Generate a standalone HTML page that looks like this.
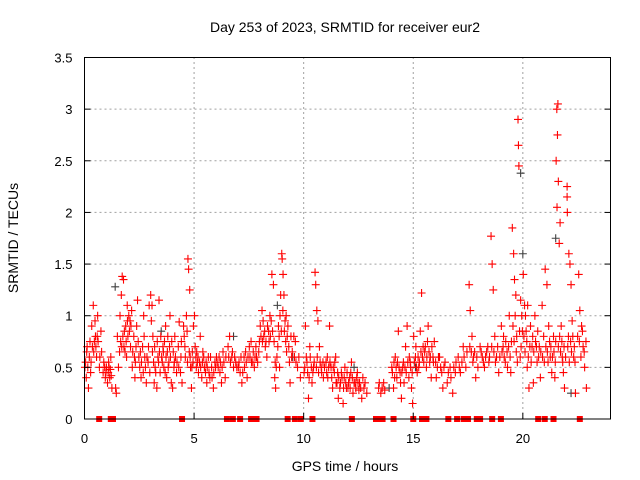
<!DOCTYPE html>
<html><head><meta charset="utf-8"><style>
body{margin:0;background:#fff;}
svg{display:block;font-family:"Liberation Sans",sans-serif;}
</style></head><body>
<svg id="chart" width="640" height="480" viewBox="0 0 640 480">
<text x="345" y="32" font-size="14" text-anchor="middle">Day 253 of 2023, SRMTID for receiver eur2</text>
<text x="345" y="471" font-size="14" text-anchor="middle">GPS time / hours</text>
<text x="0" y="0" font-size="14" text-anchor="middle" transform="translate(18,238) rotate(-90)">SRMTID / TECUs</text>
<g id="grid"></g>
<g id="gray"></g>
<g id="red"></g>
<g id="zeros"></g>
<g id="axes"></g>
</svg>
<script>
const xTicks=[0,5,10,15,20];
const yTicks=[0,0.5,1,1.5,2,2.5,3,3.5];
const yTickLabels=["0","0.5","1","1.5","2","2.5","3","3.5"];
const redPts=[
[0.02,0.5],[0.08,0.4],[0.12,0.7],[0.18,0.3],[0.22,0.6],[0.28,0.45],
[0.33,0.9],[0.4,1.1],[0.45,0.75],[0.5,0.8],[0.55,0.6],[0.6,1.0],[0.68,0.5],[0.75,0.85],
[0.92,0.5],[0.98,0.45],[1.05,0.35],[1.1,0.55],[1.15,0.4],[1.2,0.6],[1.25,0.3],
[1.42,0.3],[1.45,0.25],[1.5,0.8],[1.55,0.5],
[1.62,1.0],[1.68,1.2],[1.72,1.38],[1.78,1.35],[1.8,0.7],[1.85,0.65],[1.88,0.9],[1.92,0.6],[1.95,1.1],[1.98,0.8],
[2.02,1.0],[2.08,0.95],[2.12,0.9],[2.18,0.5],[2.25,0.8],[2.3,0.4],[2.35,0.7],[2.42,1.15],[2.48,0.6],
[2.52,0.5],[2.58,0.4],[2.65,0.7],[2.7,1.0],[2.75,0.6],[2.82,0.35],[2.9,0.55],[2.95,1.1],
[3.02,1.2],[3.08,1.1],[3.12,0.8],[3.18,0.35],[3.22,0.5],[3.3,0.3],[3.35,0.6],[3.4,1.15],[3.45,0.45],
[3.52,0.6],[3.58,0.7],[3.62,0.5],[3.7,0.9],[3.75,0.4],[3.8,0.8],[3.85,0.55],[3.9,1.0],[3.96,0.35],
[4.02,0.3],[4.08,0.5],[4.12,0.8],[4.2,0.45],[4.28,0.7],[4.32,0.94],[4.4,0.6],[4.45,0.35],
[4.52,0.9],[4.58,0.7],[4.65,1.0],[4.72,1.55],[4.75,1.45],[4.8,1.25],[4.84,0.5],[4.88,0.3],[4.92,0.65],[4.97,0.9],
[5.02,1.0],[5.08,0.6],[5.15,0.55],[5.2,0.45],[5.28,0.8],[5.35,0.4],[5.4,0.65],[5.47,0.5],
[5.52,0.45],[5.58,0.35],[5.65,0.6],[5.72,0.4],[5.8,0.5],[5.88,0.3],[5.95,0.55],
[6.02,0.6],[6.1,0.5],[6.18,0.45],[6.25,0.35],[6.32,0.65],[6.42,0.4],
[6.55,0.7],[6.62,0.8],[6.72,0.6],[6.8,0.5],[6.9,0.55],
[7.02,0.5],[7.1,0.45],[7.18,0.35],[7.28,0.6],[7.35,0.65],[7.42,0.4],
[7.52,0.7],[7.6,0.75],[7.68,0.55],[7.75,0.5],[7.85,0.6],[7.95,0.65],
[8.02,0.9],[8.1,1.05],[8.18,0.8],[8.25,0.7],[8.32,0.6],[8.4,0.85],[8.46,1.0],
[8.55,1.4],[8.62,1.3],[8.68,0.4],[8.72,0.3],[8.78,0.6],[8.85,0.9],[8.9,0.5],[8.95,1.2],
[9.0,1.6],[9.02,1.55],[9.06,1.4],[9.1,1.2],[9.15,0.95],[9.2,1.0],[9.25,0.8],[9.32,0.7],[9.38,0.35],[9.45,0.6],
[9.55,0.8],[9.62,0.75],[9.72,0.5],[9.85,0.4],
[10.02,0.45],[10.08,0.9],[10.15,0.55],[10.22,0.2],[10.3,0.6],[10.38,0.35],[10.45,0.5],
[10.52,1.42],[10.55,1.3],[10.6,1.05],[10.65,0.95],[10.72,0.7],[10.8,0.5],[10.9,0.4],
[11.02,0.55],[11.1,0.4],[11.18,0.9],[11.25,0.5],[11.32,0.3],[11.4,0.45],[11.46,0.6],
[11.52,0.35],[11.58,0.2],[11.65,0.3],[11.72,0.45],[11.8,0.15],[11.88,0.5],[11.95,0.3],
[12.02,0.3],[12.1,0.4],[12.18,0.55],[12.25,0.25],[12.35,0.35],[12.45,0.45],
[12.55,0.35],[12.65,0.2],[12.75,0.3],[12.88,0.25],
[13.42,0.3],[13.52,0.25],[13.65,0.35],
[14.02,0.5],[14.1,0.3],[14.18,0.6],[14.25,0.4],[14.32,0.85],[14.4,0.45],[14.46,0.2],
[14.52,0.5],[14.58,0.35],[14.65,0.7],[14.72,0.9],[14.8,0.4],[14.86,0.55],[14.92,0.3],[14.97,0.15],
[15.02,0.8],[15.1,0.6],[15.18,0.45],[15.25,0.5],[15.32,0.85],[15.38,1.22],[15.45,0.7],
[15.52,0.65],[15.6,0.5],[15.68,0.9],[15.75,0.55],[15.82,0.4],[15.9,0.6],[15.96,0.75],
[16.05,0.4],[16.15,0.6],[16.25,0.5],[16.35,0.3],[16.45,0.55],
[16.55,0.35],[16.68,0.5],[16.8,0.25],[16.92,0.45],
[17.05,0.6],[17.15,0.45],[17.28,0.7],[17.4,0.5],
[17.55,1.3],[17.6,1.05],[17.68,0.8],[17.75,0.6],[17.85,0.4],[17.95,0.5],
[18.05,0.7],[18.15,0.6],[18.25,0.5],[18.35,0.65],[18.45,0.55],
[18.55,1.77],[18.6,1.5],[18.65,1.25],[18.72,0.8],[18.8,0.6],[18.9,0.45],
[19.02,0.9],[19.1,0.7],[19.2,0.55],[19.3,0.5],[19.38,1.0],[19.45,0.45],
[19.52,1.85],[19.58,1.6],[19.62,1.35],[19.68,1.2],[19.72,0.8],[19.78,2.9],[19.8,2.65],[19.82,2.45],[19.88,0.6],[19.95,1.0],
[20.02,1.4],[20.08,1.1],[20.15,0.85],[20.2,0.5],[20.28,0.3],[20.35,0.9],[20.42,0.7],[20.48,0.35],
[20.55,1.0],[20.62,0.7],[20.72,0.6],[20.8,0.4],[20.88,1.1],[20.95,0.8],
[21.02,1.45],[21.1,1.3],[21.18,0.9],[21.25,0.6],[21.32,0.45],[21.4,0.8],[21.46,0.4],
[21.6,3.05],[21.55,3.0],[21.58,2.75],[21.52,2.5],[21.62,2.3],[21.56,2.05],[21.7,1.9],[21.66,1.7],[21.75,0.9],[21.8,0.6],[21.85,0.45],[21.9,0.3],
[22.02,2.25],[22.02,2.15],[22.03,2.0],[22.1,1.6],[22.15,1.5],[22.2,1.3],[22.25,0.95],[22.32,0.6],[22.4,0.25],
[22.55,1.4],[22.6,1.05],[22.68,0.9],[22.75,0.7],[22.82,0.5],[22.9,0.3]
];
const redPtsDense=[
[0.05,0.55],[0.1,0.65],[0.15,0.5],[0.25,0.75],[0.3,0.55],[0.36,0.7],[0.42,0.65],[0.48,0.95],[0.52,0.7],[0.58,0.8],[0.62,0.75],[0.7,0.6],[0.78,0.65],
[0.85,0.45],[0.88,0.55],[0.95,0.4],[1.0,0.5],[1.08,0.45],[1.12,0.5],[1.18,0.48],[1.22,0.42],
[1.6,0.65],[1.65,0.75],[1.7,0.7],[1.75,0.8],[1.82,0.85],[1.9,0.75],[1.96,0.95],
[2.05,0.85],[2.1,0.7],[2.15,1.05],[2.2,0.65],[2.28,0.6],[2.32,0.55],[2.38,0.9],[2.45,0.75],
[2.55,0.65],[2.6,0.55],[2.68,0.45],[2.72,0.8],[2.78,0.5],[2.85,0.6],[2.92,0.7],[2.98,0.45],
[3.05,0.95],[3.1,0.65],[3.15,0.55],[3.2,0.7],[3.25,0.45],[3.32,0.75],[3.38,0.55],[3.42,0.65],[3.48,0.8],
[3.55,0.55],[3.6,0.65],[3.65,0.75],[3.68,0.45],[3.72,0.6],[3.78,0.65],[3.82,0.5],[3.88,0.7],[3.92,0.6],[3.98,0.75],
[4.05,0.65],[4.1,0.55],[4.15,0.6],[4.22,0.55],[4.3,0.5],[4.38,0.45],[4.42,0.75],
[4.55,0.8],[4.6,0.6],[4.68,0.85],[4.7,0.55],[4.78,0.65],[4.82,0.6],[4.9,0.5],[4.95,0.55],
[5.05,0.7],[5.1,0.5],[5.12,0.65],[5.18,0.6],[5.25,0.55],[5.3,0.5],[5.38,0.55],[5.44,0.6],
[5.55,0.55],[5.6,0.5],[5.68,0.45],[5.75,0.6],[5.82,0.4],[5.9,0.45],[5.98,0.5],
[6.05,0.55],[6.14,0.6],[6.2,0.55],[6.28,0.5],[6.36,0.55],[6.45,0.6],
[6.58,0.6],[6.66,0.55],[6.75,0.65],[6.85,0.6],[6.95,0.5],
[7.05,0.55],[7.14,0.6],[7.22,0.45],[7.3,0.5],[7.38,0.55],[7.46,0.6],
[7.55,0.6],[7.62,0.55],[7.7,0.65],[7.78,0.6],[7.82,0.7],[7.9,0.55],[7.98,0.75],
[8.05,0.8],[8.12,0.75],[8.15,0.95],[8.22,0.85],[8.28,0.75],[8.35,0.9],[8.42,0.75],[8.48,0.8],
[8.52,0.95],[8.58,0.85],[8.65,0.75],[8.7,0.55],[8.75,0.5],[8.82,0.7],[8.88,0.8],[8.92,1.0],[8.98,0.85],
[9.05,1.05],[9.12,0.85],[9.18,0.75],[9.22,0.65],[9.28,0.9],[9.35,0.55],[9.42,0.8],[9.48,0.65],
[9.58,0.6],[9.65,0.55],[9.78,0.6],
[10.05,0.5],[10.12,0.6],[10.18,0.45],[10.25,0.4],[10.28,0.7],[10.35,0.5],[10.42,0.45],[10.48,0.55],
[10.58,0.5],[10.62,0.6],[10.68,0.45],[10.75,0.55],[10.82,0.45],[10.88,0.55],[10.95,0.5],
[11.05,0.45],[11.08,0.6],[11.14,0.5],[11.2,0.55],[11.28,0.4],[11.35,0.5],[11.42,0.55],[11.48,0.35],
[11.55,0.45],[11.6,0.4],[11.68,0.35],[11.75,0.4],[11.82,0.3],[11.85,0.4],[11.92,0.35],[11.98,0.45],
[12.05,0.35],[12.12,0.3],[12.15,0.45],[12.22,0.4],[12.3,0.35],[12.38,0.3],[12.42,0.4],[12.48,0.35],
[12.52,0.28],[12.6,0.3],[12.7,0.4],[12.8,0.35],
[13.45,0.35],[13.58,0.3],[13.7,0.28],
[14.05,0.45],[14.12,0.55],[14.15,0.4],[14.22,0.5],[14.28,0.55],[14.35,0.5],[14.42,0.35],[14.48,0.45],
[14.55,0.55],[14.62,0.5],[14.68,0.45],[14.75,0.55],[14.82,0.6],[14.88,0.5],[14.95,0.45],
[15.05,0.55],[15.12,0.7],[15.15,0.5],[15.22,0.6],[15.28,0.55],[15.35,0.65],[15.42,0.6],[15.48,0.55],
[15.55,0.7],[15.62,0.6],[15.65,0.75],[15.72,0.65],[15.78,0.6],[15.85,0.7],[15.92,0.55],
[16.02,0.55],[16.1,0.5],[16.2,0.6],[16.3,0.45],[16.4,0.5],
[16.6,0.45],[16.72,0.4],[16.85,0.5],[16.95,0.55],
[17.1,0.5],[17.22,0.55],[17.32,0.6],[17.45,0.65],
[17.58,0.7],[17.65,0.65],[17.72,0.55],[17.8,0.65],[17.9,0.6],
[18.1,0.65],[18.2,0.55],[18.3,0.6],[18.4,0.7],[18.48,0.6],
[18.58,0.7],[18.68,0.65],[18.75,0.55],[18.85,0.7],[18.95,0.6],
[19.05,0.65],[19.12,0.8],[19.15,0.6],[19.22,0.75],[19.28,0.65],[19.35,0.7],[19.42,0.6],[19.48,0.75],
[19.55,0.9],[19.6,0.75],[19.65,1.0],[19.7,0.65],[19.75,0.55],[19.85,0.85],[19.9,1.15],[19.92,0.7],[19.98,0.85],
[20.05,0.8],[20.1,0.65],[20.12,1.0],[20.18,0.75],[20.22,1.1],[20.25,0.6],[20.32,0.7],[20.38,0.55],[20.45,0.8],
[20.5,0.65],[20.58,0.75],[20.65,0.55],[20.68,0.85],[20.75,0.7],[20.82,0.65],[20.9,0.6],[20.98,0.55],
[21.05,0.7],[21.12,0.65],[21.15,0.55],[21.22,0.75],[21.28,0.7],[21.35,0.6],[21.42,0.65],[21.48,0.55],
[21.5,0.75],[21.62,0.7],[21.68,0.8],[21.72,0.65],[21.78,0.75],[21.82,0.55],[21.88,0.7],[21.95,0.6],
[22.05,0.7],[22.08,0.8],[22.12,0.55],[22.18,0.75],[22.22,0.65],[22.28,0.8],[22.35,0.7],[22.38,0.55],
[22.5,0.8],[22.58,0.75],[22.65,0.6],[22.72,0.85],[22.8,0.65],[22.88,0.75]
];
const grayPts=[[19.9,2.38],[21.5,1.75],[22.2,0.25],[15.1,0.5],[13.9,0.3],[1.4,1.28],[20.0,1.6],[6.8,0.8],[9.5,0.6],[3.5,0.85],[12.3,0.5],[8.8,1.1]];
const zeroTimes=[0.67,1.2,1.3,4.45,6.5,6.77,7.1,7.6,7.7,7.85,9.27,9.6,9.87,10.4,12.2,13.3,13.45,13.6,14.1,15.0,15.4,15.6,16.6,17.0,17.3,17.5,17.9,18.05,18.6,19.0,20.7,21.0,21.4,22.6];

const X0=84.5,X1=610.5,Y0=419,Y1=57.5,XMAX=24,YMAX=3.5;
const sx=t=>X0+(X1-X0)*t/XMAX;
const sy=v=>Y0-(Y0-Y1)*v/YMAX;
const NS="http://www.w3.org/2000/svg";
function mk(tag,attrs,parent){const e=document.createElementNS(NS,tag);for(const k in attrs)e.setAttribute(k,attrs[k]);parent.appendChild(e);return e;}
const grid=document.getElementById('grid'),axes=document.getElementById('axes');
xTicks.forEach(t=>{
  if(t>0){const l=mk('line',{x1:sx(t),x2:sx(t),y1:Y0,y2:Y1,stroke:'#a0a0a0','stroke-dasharray':'2,3'},grid);
  
  }
  const tk=mk('line',{x1:sx(t),x2:sx(t),y1:Y0,y2:Y0-6,stroke:'#000'},axes);
  
  
  const tx=mk('text',{x:sx(t),y:Y0+24,'font-size':13,'text-anchor':'middle'},axes);tx.textContent=String(t);
  
  
});
yTicks.forEach((v,i)=>{
  if(v>0&&v<YMAX){const l=mk('line',{x1:X0,x2:X1,y1:sy(v),y2:sy(v),stroke:'#a0a0a0','stroke-dasharray':'2,3'},grid);
  
  }
  const tk=mk('line',{x1:X0,x2:X0+6,y1:sy(v),y2:sy(v),stroke:'#000'},axes);
  
  
  const tk2=mk('line',{x1:X1,x2:X1-6,y1:sy(v),y2:sy(v),stroke:'#000'},axes);
  
  
  const tx=mk('text',{x:X0-12,y:sy(v)+5,'font-size':13,'text-anchor':'end'},axes);tx.textContent=yTickLabels[i];
  
  
});
const frame=mk('rect',{x:X0,y:Y1,width:X1-X0,height:Y0-Y1,fill:'none',stroke:'#000'},axes);


function plus(g,t,v,c,name){
  const x=sx(t),y=sy(v);
  const p=mk('path',{d:`M${x-4},${y}H${x+4}M${x},${y-4}V${y+4}`,stroke:c,'stroke-width':1.1,fill:'none'},g);
  
  
}
const gg=document.getElementById('gray'),rg=document.getElementById('red'),zg=document.getElementById('zeros');
grayPts.forEach(p=>plus(gg,p[0],p[1],'#404040','gray-point'));
redPtsDense.forEach(p=>plus(rg,p[0],p[1],'#ff0000','red-point'));
redPts.forEach(p=>plus(rg,p[0],p[1],'#ff0000','red-point'));
zeroTimes.forEach(t=>{
  const r=mk('rect',{x:sx(t)-3,y:Y0-3,width:6,height:6,fill:'#ff0000'},zg);
  
  
});
</script>
</body></html>
